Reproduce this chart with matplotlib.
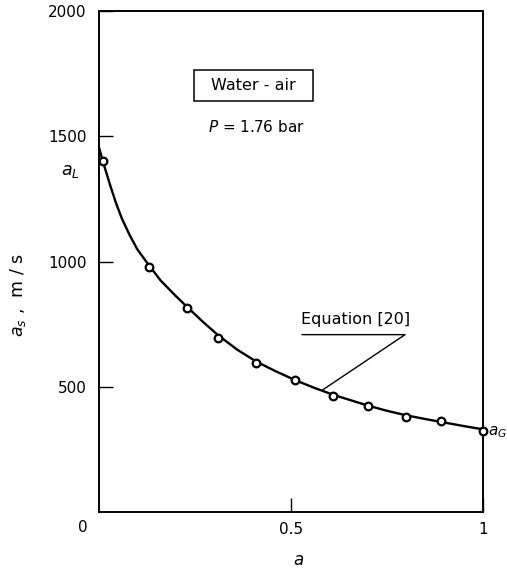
import matplotlib
matplotlib.use("Agg")
import matplotlib.pyplot as plt
from matplotlib.patches import Rectangle

# Measured points (void fraction alpha, sound speed a_s in m/s)
alpha_pts = [0.01, 0.13, 0.23, 0.31, 0.41, 0.51, 0.61, 0.70, 0.80, 0.89, 1.00]
as_pts = [1400, 980, 816, 696, 596, 528, 464, 424, 380, 364, 324]

# Equation [20] curve
alpha_curve = [0.0, 0.01, 0.02, 0.03, 0.045, 0.06, 0.08, 0.1, 0.13, 0.16,
               0.2, 0.23, 0.27, 0.31, 0.36, 0.41, 0.46, 0.51, 0.56, 0.61,
               0.66, 0.70, 0.75, 0.80, 0.85, 0.90, 0.95, 1.0]
as_curve = [1455, 1400, 1350, 1300, 1230, 1170, 1105, 1048, 985, 925,
            862, 818, 760, 706, 648, 600, 562, 527, 496, 468,
            444, 425, 404, 386, 371, 357, 343, 330]

xticks = [0.5, 1]
xticklabels = ["0.5", "1"]
yticks = [500, 1000, 1500, 2000]
yticklabels = ["500", "1000", "1500", "2000"]

plt.rcParams['font.family'] = ['DejaVu Sans']

fig = plt.figure(figsize=(5.07, 5.71), dpi=100)
ax = fig.add_axes([99/507, 59/571, 384/507, 501/571])

ax.plot(alpha_curve, as_curve, color='black', lw=1.7, zorder=2)
ax.plot(alpha_pts, as_pts, 'o', mfc='white', mec='black', ms=5.5, mew=1.6,
        zorder=3, clip_on=False)

ax.set_xlim(0, 1)
ax.set_ylim(0, 2000)
ax.set_xticks(xticks)
ax.set_xticklabels(xticklabels)
ax.set_yticks(yticks)
ax.set_yticklabels(yticklabels)
ax.tick_params(direction='in', length=10, width=1.0, labelsize=11, pad=9)
ax.tick_params(axis='x', pad=7)
for s in ax.spines.values():
    s.set_linewidth(1.4)

ax.text(-0.042, -60, "0", ha='center', va='center', fontsize=11)

ax.set_xlabel(r"$a$", fontsize=12, va='center')
ax.xaxis.set_label_coords(0.52, -0.095)
ax.set_ylabel(r"$a_s$ ,  m / s", fontsize=12.5)
ax.yaxis.set_label_coords(-0.185, 0.433)

# annotations
ax.add_patch(Rectangle((0.247, 1640), 0.31, 124, fc='white', ec='black', lw=1.1))
ax.text(0.401, 1702, "Water - air", ha='center', va='center', fontsize=11.5)
ax.text(0.284, 1536, r"$P$ = 1.76 bar", ha='left', va='center', fontsize=11)
ax.text(-0.05, 1360, r"$a_L$", ha='right', va='center', fontsize=12.5)
ax.text(1.014, 320, r"$a_G$", ha='left', va='center', fontsize=11, clip_on=False)

ax.text(0.525, 768, "Equation [20]", ha='left', va='center', fontsize=11.5)
ax.plot([0.529, 0.797, 0.583], [708, 708, 488], color='black', lw=1.0)

fig.savefig("out.png", dpi=100)
